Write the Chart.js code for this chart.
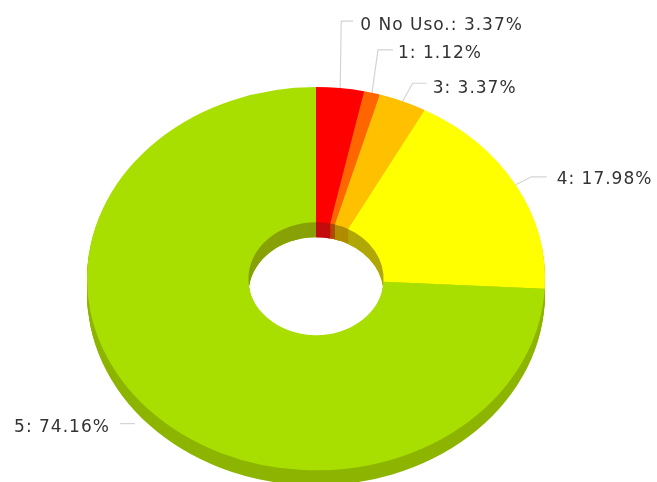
<!DOCTYPE html>
<html>
<head>
<meta charset="utf-8">
<style>
html,body{margin:0;padding:0;background:#fff;}
canvas{display:block;filter:blur(0.4px);}
</style>
<script src="https://cdn.jsdelivr.net/npm/chart.js@4/dist/chart.umd.min.js"></script>
</head>
<body>
<canvas id="c" width="657" height="482"></canvas>
<script>
const categories = ['0 No Uso.', '1', '3', '4', '5'];
const percentages = [3.37, 1.12, 3.37, 17.98, 74.16];

const topColors  = ['#ff0000', '#ff6600', '#ffc000', '#ffff00', '#a9df00'];
const sideColors = ['#c80000', '#cc5200', '#cc9a00', '#cccc00', '#8db500'];
const wallColors = ['#c40c0c', '#b04a00', '#b08c00', '#b0a808', '#88a206'];

// Projection of the flat ring into the tilted 3D view
const view = { cx: 316, cy: 278.7, squash: 0.837, depth: 15 };
// Leader lines, relative to the outer edge of each slice at its middle angle
const leaders = [
  { pts: [[0, 0], [1, -67], [13, -67]], text: [20, -63] },
  { pts: [[0, 0], [6, -43], [21, -43]], text: [26, -39] },
  { pts: [[0, 0], [10, -18], [24, -18]], text: [30, -13] },
  { pts: [[0, 0], [16, -8], [31, -8]], text: [41, -5] },
  { pts: [[-15, 13], [-30, 13]], text: [-40, 17], align: 'right' }
];

function enterView(ctx, arc, offset) {
  ctx.translate(view.cx, view.cy + offset);
  ctx.scale(1, view.squash);
  ctx.translate(-arc.x, -arc.y);
}

function drawLayer(ctx, arcs, colors, offset) {
  ctx.save();
  enterView(ctx, arcs[0], offset);
  arcs.forEach((arc, i) => {
    const saved = arc.options;
    arc.options = Object.assign(Object.create(saved), { backgroundColor: colors[i] });
    arc.draw(ctx);
    arc.options = saved;
  });
  ctx.restore();
}

const tilted = {
  id: 'tilted',
  beforeDatasetsDraw(chart) {
    const ctx = chart.ctx;
    const arcs = chart.getDatasetMeta(0).data;

    // Leader lines and labels
    arcs.forEach((arc, i) => {
      const mid = (arc.startAngle + arc.endAngle) / 2;
      const ax = view.cx + arc.outerRadius * Math.cos(mid);
      const ay = view.cy + arc.outerRadius * view.squash * Math.sin(mid);
      const l = leaders[i];
      ctx.save();
      ctx.strokeStyle = '#d4d4d4';
      ctx.lineWidth = 1.2;
      ctx.beginPath();
      l.pts.forEach((p, k) => {
        if (k === 0) ctx.moveTo(ax + p[0], ay + p[1]); else ctx.lineTo(ax + p[0], ay + p[1]);
      });
      ctx.stroke();
      ctx.fillStyle = '#333333';
      ctx.font = '17px "DejaVu Sans"';
      ctx.letterSpacing = '1px';
      ctx.textBaseline = 'middle';
      ctx.textAlign = l.align || 'left';
      ctx.fillText(categories[i] + ': ' + percentages[i].toFixed(2) + '%', ax + l.text[0], ay + l.text[1]);
      ctx.restore();
    });

    // Outer side of the ring
    for (let d = view.depth; d >= 1; d--) drawLayer(ctx, arcs, sideColors, d);

    // Inner wall, seen only through the hole
    ctx.save();
    enterView(ctx, arcs[0], 0);
    ctx.beginPath();
    ctx.arc(arcs[0].x, arcs[0].y, arcs[0].innerRadius, 0, Math.PI * 2);
    ctx.restore();
    ctx.save();
    ctx.clip();
    for (let d = view.depth; d >= 1; d--) drawLayer(ctx, arcs, wallColors, d);
    ctx.restore();

    // Top face is drawn by the chart itself, inside the same projection
    ctx.save();
    enterView(ctx, arcs[0], 0);
  },
  afterDatasetsDraw(chart) {
    chart.ctx.restore();
  }
};

new Chart(document.getElementById('c'), {
  type: 'doughnut',
  data: {
    labels: categories,
    datasets: [{
      data: percentages,
      backgroundColor: topColors,
      borderWidth: 0,
      clip: false
    }]
  },
  options: {
    responsive: false,
    animation: false,
    radius: 229,
    cutout: '29.5%',
    layout: { padding: 0 },
    plugins: { legend: { display: false }, tooltip: { enabled: false } }
  },
  plugins: [tilted]
});
</script>
</body>
</html>
